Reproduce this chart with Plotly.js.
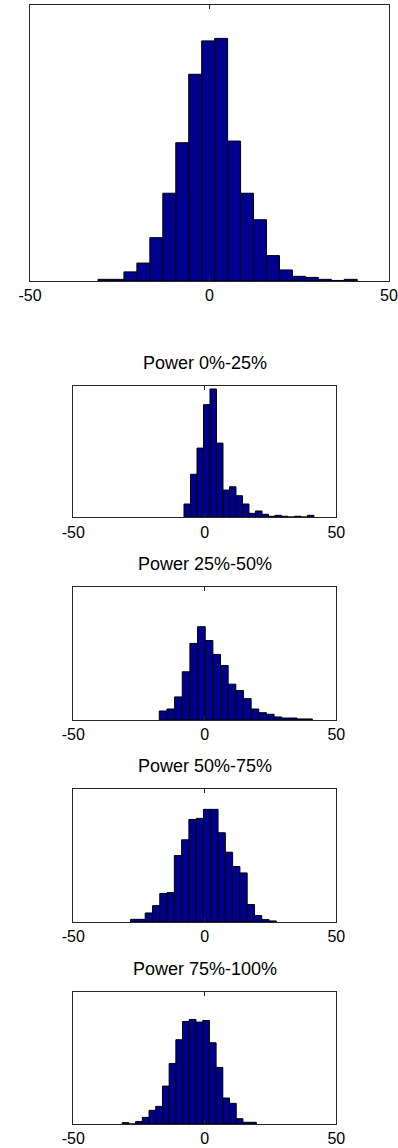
<!DOCTYPE html>
<html>
<head>
<meta charset="utf-8">
<script src="https://cdn.plot.ly/plotly-3.0.1.min.js"></script>
<style>html,body{margin:0;padding:0;background:#fff;}#chart{width:398px;height:1148px;}</style>
</head>
<body>
<div id="chart"></div>
<script>
// ---- data (bin centres and relative bar heights) ----
var allCenters = [-29.25,-25.64,-22.03,-18.42,-14.81,-11.2,-7.59,-3.98,-0.37,3.24,6.85,10.46,14.07,17.68,21.29,24.9,28.51,32.12,35.73,39.34];
var allCounts  = [6,6,33,65,157,318,501,749,870,879,507,318,222,92,40,17,13,6,2,6];
var allWidth = 3.61;

var p1Centers = [-6.67,-4.2,-1.73,0.74,3.21,5.68,8.15,10.62,13.09,15.56,18.03,20.5,22.97,25.44,27.91,30.38,32.85,35.32,37.79,40.26];
var p1Counts  = [101,327,526,856,975,564,207,232,164,101,30,48,23,8,15,8,3,8,3,15];
var p1Width = 2.47;

var p2Centers = [-15.85,-12.94,-10.03,-7.12,-4.21,-1.3,1.61,4.52,7.43,10.34,13.25,16.16,19.07,21.98,24.89,27.8,30.71,33.62,36.53,39.44];
var p2Counts  = [68,83,174,363,577,703,599,494,411,270,222,161,83,55,43,23,15,15,8,8];
var p2Width = 2.91;

var p3Centers = [-26.82,-24.05,-21.28,-18.51,-15.74,-12.97,-10.2,-7.43,-4.66,-1.89,0.88,3.65,6.42,9.19,11.96,14.73,17.5,20.27,23.04,25.81];
var p3Counts  = [20,20,68,123,214,221,500,618,771,779,847,847,671,525,417,369,131,48,18,8];
var p3Width = 2.77;

var p4Centers = [-30.13,-27.58,-25.03,-22.48,-19.93,-17.38,-14.83,-12.28,-9.73,-7.18,-4.63,-2.08,0.47,3.02,5.57,8.12,10.67,13.22,15.77,18.32];
var p4Counts  = [10,0,18,50,103,133,286,457,636,774,789,769,781,613,427,196,156,40,13,13];
var p4Width = 2.55;

var titles = ["", "Power 0%-25%", "Power 25%-50%", "Power 50%-75%", "Power 75%-100%"];
var xTicks = [-50, 0, 50];
var xTickText = ["-50", "0", "50"];

// ---- layout geometry (pixels) ----
var W = 398, H = 1148;
var boxes = [
  {l:30,   r:389,   t:5,     b:281},
  {l:73.3, r:336.3, t:385.7, b:517.3},
  {l:73.3, r:336.3, t:587.3, b:720},
  {l:73.3, r:336.3, t:789,   b:922},
  {l:73.3, r:336.3, t:991.5, b:1124}
];
var series = [
  [allCenters, allCounts, allWidth],
  [p1Centers, p1Counts, p1Width],
  [p2Centers, p2Counts, p2Width],
  [p3Centers, p3Counts, p3Width],
  [p4Centers, p4Counts, p4Width]
];

var FONT = "Liberation Sans, Arial, Helvetica, sans-serif";
var lineCol = "#262626";
var data = [];
var layout = {
  width: W, height: H,
  margin: {l:0, r:0, t:0, b:0},
  paper_bgcolor: "#ffffff", plot_bgcolor: "#ffffff",
  showlegend: false, bargap: 0,
  font: {family: FONT, color: "#000000", size: 16},
  annotations: []
};

series.forEach(function(s, i) {
  var n = i === 0 ? "" : String(i + 1);
  data.push({
    type: "bar", x: s[0], y: s[1], width: s[2],
    xaxis: "x" + n, yaxis: "y" + n,
    marker: {color: "rgb(0,0,143)", line: {color: "#000000", width: 1}},
    hoverinfo: "x+y"
  });
  var b = boxes[i];
  layout["xaxis" + n] = {
    domain: [b.l / W, b.r / W], anchor: "y" + n,
    range: [-50, 50], tickvals: xTicks, ticktext: xTickText,
    ticks: "inside", ticklen: 4, tickcolor: lineCol, tickwidth: 1,
    showline: true, linecolor: lineCol, linewidth: 1, mirror: "ticks",
    showgrid: false, zeroline: false, ticklabeloverflow: "allow",
    tickfont: {family: FONT, size: 16, color: "#000000"}
  };
  layout["yaxis" + n] = {
    domain: [(H - b.b) / H, (H - b.t) / H], anchor: "x" + n,
    range: [0, 1000], showticklabels: false, ticks: "",
    showline: true, linecolor: lineCol, linewidth: 1, mirror: true,
    showgrid: false, zeroline: false
  };
  if (titles[i]) {
    layout.annotations.push({
      text: titles[i], showarrow: false,
      xref: "x" + n + " domain", yref: "y" + n + " domain",
      x: 0.5, y: 1, xanchor: "center", yanchor: "bottom", yshift: 11,
      font: {family: FONT, size: 18, color: "#000000"}
    });
  }
});

Plotly.newPlot("chart", data, layout, {displayModeBar: false, staticPlot: true});
</script>
</body>
</html>
